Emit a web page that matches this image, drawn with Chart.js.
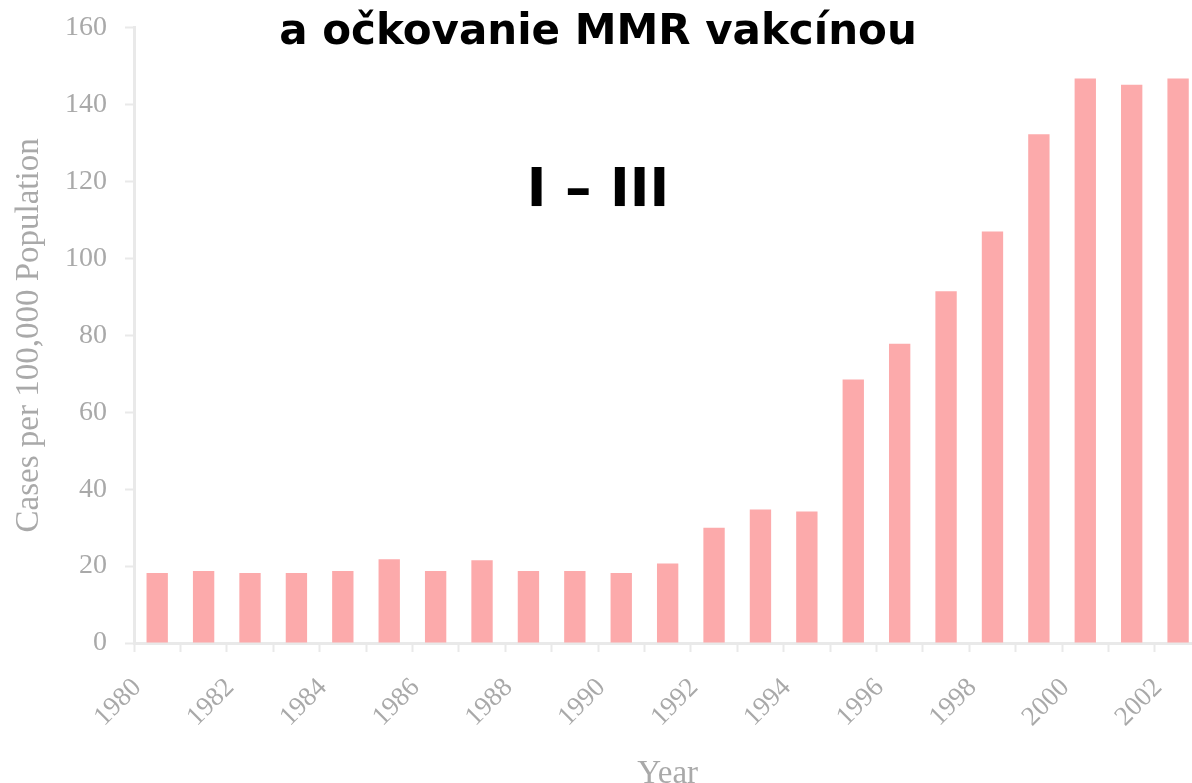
<!DOCTYPE html>
<html>
<head>
<meta charset="utf-8">
<script src="https://cdn.jsdelivr.net/npm/chart.js@4.4.1/dist/chart.umd.min.js"></script>
<style>
  body { margin: 0; overflow: hidden; background: #ffffff; }
  #wrap { position: absolute; left: 0; top: -7px; width: 1221px; height: 797px; }
  .head {
    position: absolute;
    left: 0;
    width: 1196px;
    text-align: center;
    font-family: "DejaVu Sans", sans-serif;
    font-weight: bold;
    color: #000000;
    white-space: nowrap;
  }
  #title { top: 5px; font-size: 42px; }
  #sub { top: 157px; font-size: 53px; }
</style>
</head>
<body>
<div id="wrap"><canvas id="measlesChart"></canvas></div>
<div class="head" id="title">a očkovanie MMR vakcínou</div>
<div class="head" id="sub">I – III</div>
<script>
const years = [
  "1980", "1981", "1982", "1983", "1984", "1985", "1986", "1987",
  "1988", "1989", "1990", "1991", "1992", "1993", "1994", "1995",
  "1996", "1997", "1998", "1999", "2000", "2001", "2002",
];
const casesPer100k = [
  18.2, 18.7, 18.2, 18.2, 18.7, 21.8, 18.7, 21.5,
  18.7, 18.7, 18.2, 20.7, 30, 34.7, 34.2, 68.5,
  77.8, 91.5, 107, 132.3, 146.8, 145.2, 146.8,
];
const yTicks = [0, 20, 40, 60, 80, 100, 120, 140, 160];

const grey = "#a9a9a9";
const axisGrey = "#e9e9e9";

function plotCases() {
  let ctx = document.getElementById("measlesChart").getContext("2d");

  new Chart(ctx, {
    type: "bar",
    data: {
      labels: years,
      datasets: [
        {
          data: casesPer100k,
          backgroundColor: "#fcaaab",
          borderWidth: 0,
          barPercentage: 0.46,
          categoryPercentage: 1,
        },
      ],
    },
    options: {
      responsive: true,
      maintainAspectRatio: false,
      animation: false,
      layout: {
        padding: { top: 19, left: 0, right: 0, bottom: 0 },
      },
      plugins: {
        legend: { display: false },
        tooltip: { enabled: false },
      },
      scales: {
        x: {
          afterFit: (scale) => {
            scale.height = 147;
          },
          grid: {
            drawOnChartArea: false,
            drawTicks: true,
            tickLength: 9,
            tickWidth: 2,
            color: axisGrey,
            offset: true,
          },
          border: { color: axisGrey, width: 3 },
          ticks: {
            autoSkip: false,
            minRotation: 45,
            maxRotation: 45,
            padding: 20,
            labelOffset: -20,
            color: grey,
            font: { family: "Liberation Serif", size: 27 },
            callback: function (value, index) {
              return index % 2 === 0 ? years[index] : "";
            },
          },
          title: {
            display: true,
            text: "Year",
            color: grey,
            font: { family: "Liberation Serif", size: 33 },
            padding: { top: 0, bottom: -4 },
          },
        },
        y: {
          min: 0,
          max: 160,
          afterFit: (scale) => {
            scale.width = 134;
          },
          afterBuildTicks: (scale) => {
            scale.ticks = yTicks.map((v) => ({ value: v }));
          },
          grid: {
            drawOnChartArea: false,
            drawTicks: true,
            tickLength: 9,
            tickWidth: 2,
            color: axisGrey,
          },
          border: { color: axisGrey, width: 3 },
          ticks: {
            padding: 18,
            color: grey,
            font: { family: "Liberation Serif", size: 28 },
          },
          title: {
            display: true,
            text: "Cases per 100,000 Population",
            color: grey,
            font: { family: "Liberation Serif", size: 33 },
            padding: { top: 10, bottom: 0 },
          },
        },
      },
    },
  });
}
plotCases();
</script>
</body>
</html>
